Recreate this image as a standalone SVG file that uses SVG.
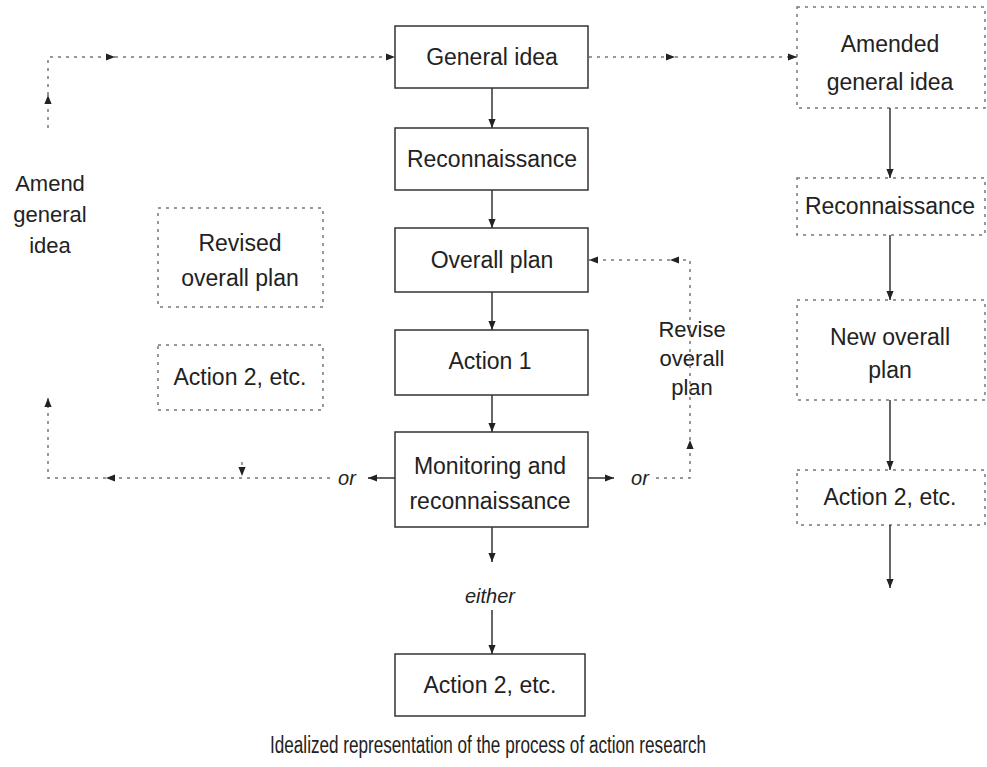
<svg xmlns="http://www.w3.org/2000/svg" width="987" height="767" viewBox="0 0 987 767">
<defs>
<marker id="ah" viewBox="0 0 10 10" refX="10" refY="5" markerWidth="9" markerHeight="9" markerUnits="userSpaceOnUse" orient="auto"><path d="M0,1 L10,5 L0,9 z" fill="#222"/></marker>
</defs>
<style>
.box{fill:none;stroke:#333;stroke-width:1.5}
.dbox{fill:none;stroke:#777;stroke-width:1.5;stroke-dasharray:3 5}
.sl{fill:none;stroke:#333;stroke-width:1.5}
.dl{fill:none;stroke:#777;stroke-width:1.5;stroke-dasharray:3 5}
text{font-family:"Liberation Sans",Arial,sans-serif;font-size:23px;fill:#222;text-anchor:middle}
.sm{font-size:22px}
.it{font-style:italic;font-size:20px}
.cap{font-size:23px}
</style>
<rect width="987" height="767" fill="#fff"/>

<g id="general-idea"><rect class="box" x="395" y="26" width="193" height="62"/><text x="492" y="65">General idea</text></g>
<g id="reconnaissance"><rect class="box" x="395" y="128" width="193" height="62"/><text x="492" y="167">Reconnaissance</text></g>
<g id="overall-plan"><rect class="box" x="395" y="228" width="193" height="64"/><text x="492" y="268">Overall plan</text></g>
<g id="action-1"><rect class="box" x="395" y="330" width="193" height="65"/><text x="490" y="369">Action 1</text></g>
<g id="monitoring"><rect class="box" x="395" y="432" width="193" height="95"/><text x="490" y="474">Monitoring and</text><text x="490" y="509">reconnaissance</text></g>
<g id="either-label"><text class="it" x="490" y="603">either</text></g>
<g id="action-2"><rect class="box" x="395" y="654" width="190" height="62"/><text x="490" y="693">Action 2, etc.</text></g>

<g id="amended-general-idea"><rect class="dbox" x="797" y="7" width="188" height="101"/><text x="890" y="52">Amended</text><text x="890" y="90">general idea</text></g>
<g id="reconnaissance-2"><rect class="dbox" x="797" y="178" width="188" height="57"/><text x="890" y="214">Reconnaissance</text></g>
<g id="new-overall-plan"><rect class="dbox" x="797" y="300" width="188" height="100"/><text x="890" y="345">New overall</text><text x="890" y="378">plan</text></g>
<g id="action-2-right"><rect class="dbox" x="797" y="470" width="188" height="55"/><text x="890" y="505">Action 2, etc.</text></g>

<g id="revised-overall-plan"><rect class="dbox" x="158" y="208" width="165" height="99"/><text x="240" y="251">Revised</text><text x="240" y="286">overall plan</text></g>
<g id="action-2-left"><rect class="dbox" x="158" y="345" width="165" height="65"/><text x="240" y="385">Action 2, etc.</text></g>

<g id="amend-general-idea-label"><text class="sm" x="50" y="191">Amend</text><text class="sm" x="50" y="222">general</text><text class="sm" x="50" y="253">idea</text></g>
<g id="revise-overall-plan-label"><text class="sm" x="692" y="337">Revise</text><text class="sm" x="692" y="366">overall</text><text class="sm" x="692" y="395">plan</text></g>
<g id="or-left"><text class="it" x="347" y="485">or</text></g>
<g id="or-right"><text class="it" x="640" y="485">or</text></g>

<g id="connectors">
<path class="sl" d="M492,88 V128" marker-end="url(#ah)"/>
<path class="sl" d="M492,190 V228" marker-end="url(#ah)"/>
<path class="sl" d="M492,292 V330" marker-end="url(#ah)"/>
<path class="sl" d="M492,395 V432" marker-end="url(#ah)"/>
<path class="sl" d="M492,527 V562" marker-end="url(#ah)"/>
<path class="sl" d="M492,610 V654" marker-end="url(#ah)"/>

<path class="sl" d="M890,108 V178" marker-end="url(#ah)"/>
<path class="sl" d="M890,235 V300" marker-end="url(#ah)"/>
<path class="sl" d="M890,400 V470" marker-end="url(#ah)"/>
<path class="sl" d="M890,525 V588" marker-end="url(#ah)"/>

<path class="dl" d="M589,57 H675" marker-end="url(#ah)"/>
<path class="dl" d="M675,57 H797" marker-end="url(#ah)"/>

<path class="sl" d="M395,478 H368" marker-end="url(#ah)"/>
<path class="dl" d="M330,478 H106" marker-end="url(#ah)"/>
<path class="dl" d="M106,478 H48 V398" marker-end="url(#ah)"/>
<path class="dl" d="M242,462 V476" marker-end="url(#ah)"/>
<path class="dl" d="M48,128 V95" marker-end="url(#ah)"/>
<path class="dl" d="M48,95 V57 H115" marker-end="url(#ah)"/>
<path class="dl" d="M115,57 H395" marker-end="url(#ah)"/>

<path class="sl" d="M588,478 H614" marker-end="url(#ah)"/>
<path class="dl" d="M656,478 H690 V440" marker-end="url(#ah)"/>
<path class="dl" d="M690,440 V260 H670" marker-end="url(#ah)"/>
<path class="dl" d="M670,260 H589" marker-end="url(#ah)"/>
</g>

<g id="caption"><text class="cap" x="488" y="753" textLength="436" lengthAdjust="spacingAndGlyphs">Idealized representation of the process of action research</text></g>
</svg>
